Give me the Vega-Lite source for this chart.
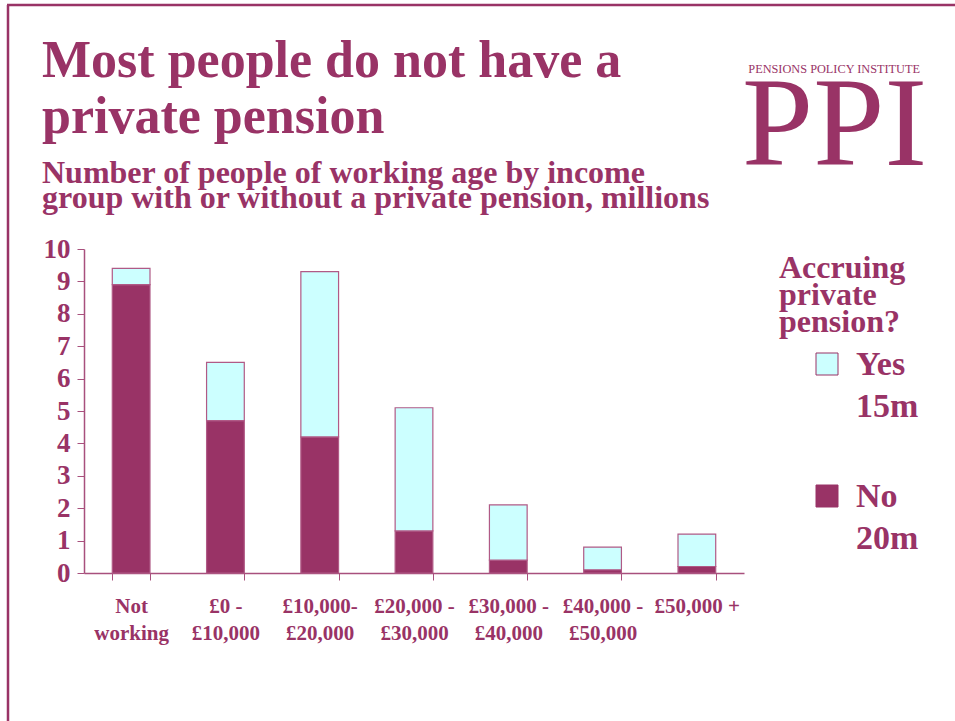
{
  "$schema": "https://vega.github.io/schema/vega-lite/v6.json",
  "autosize": {"type": "none"},
  "width": 660,
  "height": 324,
  "padding": {"left": 84, "top": 249, "right": 211, "bottom": 148},
  "background": "white",
  "data": {
    "values": [
      {"group": "Not working", "pension": "No", "people": 8.9},
      {"group": "Not working", "pension": "Yes", "people": 0.5},
      {"group": "£0 - £10,000", "pension": "No", "people": 4.7},
      {"group": "£0 - £10,000", "pension": "Yes", "people": 1.8},
      {"group": "£10,000-£20,000", "pension": "No", "people": 4.2},
      {"group": "£10,000-£20,000", "pension": "Yes", "people": 5.1},
      {"group": "£20,000 - £30,000", "pension": "No", "people": 1.3},
      {"group": "£20,000 - £30,000", "pension": "Yes", "people": 3.8},
      {"group": "£30,000 - £40,000", "pension": "No", "people": 0.4},
      {"group": "£30,000 - £40,000", "pension": "Yes", "people": 1.7},
      {"group": "£40,000 - £50,000", "pension": "No", "people": 0.1},
      {"group": "£40,000 - £50,000", "pension": "Yes", "people": 0.7},
      {"group": "£50,000 +", "pension": "No", "people": 0.2},
      {"group": "£50,000 +", "pension": "Yes", "people": 1.0}
    ]
  },
  "layer": [
    {
      "mark": {"type": "bar", "stroke": "#b05a86", "strokeWidth": 1.2},
      "encoding": {
        "x": {
          "field": "group",
          "type": "nominal",
          "sort": null,
          "scale": {"paddingInner": 0.6, "paddingOuter": 0.3},
          "axis": {
            "title": null,
            "labelAngle": 0,
            "labelFont": "Liberation Serif",
            "labelFontSize": 21,
            "labelFontWeight": "bold",
            "labelColor": "#993366",
            "labelLineHeight": 27,
            "labelPadding": 15,
            "labelExpr": "indexof(datum.label, '-') > 0 ? [trim(slice(datum.label, 0, indexof(datum.label, '-') + 1)), trim(slice(datum.label, indexof(datum.label, '-') + 1))] : datum.label == 'Not working' ? ['Not', 'working'] : datum.label",
            "tickBand": "extent",
            "tickSize": 7,
            "tickColor": "#a8507d",
            "domainColor": "#a8507d",
            "domainWidth": 1.5
          }
        },
        "y": {
          "field": "people",
          "type": "quantitative",
          "aggregate": "sum",
          "stack": "zero",
          "scale": {"domain": [0, 10], "nice": false},
          "axis": {
            "title": null,
            "values": [0, 1, 2, 3, 4, 5, 6, 7, 8, 9, 10],
            "grid": false,
            "labelFont": "Liberation Serif",
            "labelFontSize": 27,
            "labelFontWeight": "bold",
            "labelColor": "#993366",
            "labelPadding": 7,
            "tickSize": 7,
            "tickColor": "#a8507d",
            "domainColor": "#a8507d",
            "domainWidth": 1.5
          }
        },
        "color": {
          "field": "pension",
          "type": "nominal",
          "scale": {"domain": ["Yes", "No"], "range": ["#CCFFFF", "#993366"]},
          "legend": {
            "title": ["Accruing", "private", "pension?"],
            "orient": "right",
            "offset": 35,
            "padding": 0,
            "titleFont": "Liberation Serif",
            "titleFontSize": 32,
            "titleFontWeight": "bold",
            "titleColor": "#993366",
            "titleLineHeight": 27,
            "titlePadding": 12,
            "symbolType": "square",
            "symbolSize": 484,
            "symbolOffset": 31,
            "symbolStrokeColor": "#993366",
            "symbolStrokeWidth": 1,
            "symbolOpacity": 1,
            "labelFont": "Liberation Serif",
            "labelFontSize": 34,
            "labelFontWeight": "bold",
            "labelColor": "#993366",
            "labelOffset": 12,
            "labelBaseline": "alphabetic",
            "labelExpr": "datum.label == 'Yes' ? ['Yes', '15m'] : ['No', '20m']",
            "rowPadding": 55,
            "encode": {
              "labels": {"update": {"dy": {"value": 11}, "lineHeight": {"value": 42}}},
              "title": {"update": {"dy": {"value": 4}}}
            }
          }
        },
        "order": {"field": "pension", "sort": "ascending"}
      }
    },
    {
      "data": {"values": [{}]},
      "mark": {"type": "rule", "color": "#993366", "strokeWidth": 2.5},
      "encoding": {
        "x": {"datum": 7, "type": "quantitative", "scale": {"domain": [84, 744], "zero": false, "nice": false}, "axis": null},
        "x2": {"datum": 955},
        "y": {"datum": 5, "type": "quantitative", "scale": {"domain": [249, 573], "reverse": true, "zero": false, "nice": false}, "axis": null}
      }
    },
    {
      "data": {"values": [{}]},
      "mark": {"type": "rule", "color": "#993366", "strokeWidth": 2.5},
      "encoding": {
        "x": {"datum": 8, "type": "quantitative", "scale": {"domain": [84, 744], "zero": false, "nice": false}, "axis": null},
        "y": {"datum": 5, "type": "quantitative", "scale": {"domain": [249, 573], "reverse": true, "zero": false, "nice": false}, "axis": null},
        "y2": {"datum": 721}
      }
    },
    {
      "data": {"values": [{}]},
      "mark": {"type": "text", "text": ["Most people do not have a", "private pension"], "font": "Liberation Serif", "fontSize": 52, "fontWeight": "bold", "lineHeight": 56, "color": "#993366", "align": "left", "baseline": "alphabetic"},
      "encoding": {
        "x": {"datum": 42, "type": "quantitative", "scale": {"domain": [84, 744], "zero": false, "nice": false}, "axis": null},
        "y": {"datum": 77, "type": "quantitative", "scale": {"domain": [249, 573], "reverse": true, "zero": false, "nice": false}, "axis": null}
      }
    },
    {
      "data": {"values": [{}]},
      "mark": {"type": "text", "text": ["Number of people of working age by income", "group with or without a private pension, millions"], "font": "Liberation Serif", "fontSize": 32, "fontWeight": "bold", "lineHeight": 25, "color": "#993366", "align": "left", "baseline": "alphabetic"},
      "encoding": {
        "x": {"datum": 42, "type": "quantitative", "scale": {"domain": [84, 744], "zero": false, "nice": false}, "axis": null},
        "y": {"datum": 183, "type": "quantitative", "scale": {"domain": [249, 573], "reverse": true, "zero": false, "nice": false}, "axis": null}
      }
    },
    {
      "data": {"values": [{}]},
      "mark": {"type": "text", "text": "PENSIONS POLICY INSTITUTE", "font": "Liberation Serif", "fontSize": 12.3, "color": "#993366", "align": "right", "baseline": "alphabetic"},
      "encoding": {
        "x": {"datum": 920, "type": "quantitative", "scale": {"domain": [84, 744], "zero": false, "nice": false}, "axis": null},
        "y": {"datum": 73, "type": "quantitative", "scale": {"domain": [249, 573], "reverse": true, "zero": false, "nice": false}, "axis": null}
      }
    },
    {
      "data": {"values": [{}]},
      "mark": {"type": "text", "text": "PPI", "font": "Liberation Serif", "fontSize": 128, "color": "#993366", "align": "right", "baseline": "alphabetic"},
      "encoding": {
        "x": {"datum": 927, "type": "quantitative", "scale": {"domain": [84, 744], "zero": false, "nice": false}, "axis": null},
        "y": {"datum": 165, "type": "quantitative", "scale": {"domain": [249, 573], "reverse": true, "zero": false, "nice": false}, "axis": null}
      }
    }
  ],
  "resolve": {"scale": {"x": "independent", "y": "independent"}},
  "config": {"view": {"stroke": null}, "font": "Liberation Serif"}
}
